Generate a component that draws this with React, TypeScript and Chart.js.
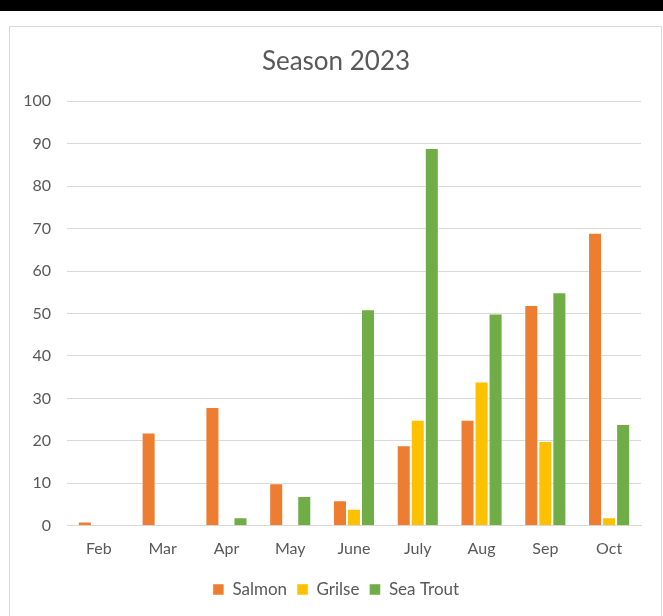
import React, { useEffect, useRef } from "react";
import { Chart, registerables } from "chart.js";

Chart.register(...registerables);

const months = ["Feb", "Mar", "Apr", "May", "June", "July", "Aug", "Sep", "Oct"];
const salmon = [1, 22, 28, 10, 6, 19, 25, 52, 69];
const grilse = [0, 0, 0, 0, 4, 25, 34, 20, 2];
const seaTrout = [0, 0, 2, 7, 51, 89, 50, 55, 24];
const chartTitle = "Season 2023";

const FONT = "Lato, 'Open Sans', sans-serif";
const TEXT = "#595959";

// centres the title and legend on the chart frame rather than the canvas
const centreOnFrame = {
  id: "centreOnFrame",
  afterLayout(chart: any) {
    const shift = 10.5;
    [chart.titleBlock, chart.legend].forEach((b: any) => {
      if (b) {
        b.left += shift;
        b.right += shift;
      }
    });
  },
};

export default function App() {
  const ref = useRef<HTMLCanvasElement | null>(null);

  useEffect(() => {
    document.body.style.margin = "0";
    const ctx = ref.current;
    if (!ctx) return;
    const chart = new Chart(ctx, {
      type: "bar",
      data: {
        labels: months,
        datasets: [
          { label: "Salmon", data: salmon, backgroundColor: "#ED7D31", borderColor: "rgba(255,255,255,0.45)", borderWidth: 1 },
          { label: "Grilse", data: grilse, backgroundColor: "#FFC000", borderColor: "rgba(255,255,255,0.45)", borderWidth: 1 },
          { label: "Sea Trout", data: seaTrout, backgroundColor: "#70AD47", borderColor: "rgba(255,255,255,0.45)", borderWidth: 1 },
        ],
      },
      options: {
        animation: false,
        responsive: false,
        maintainAspectRatio: false,
        datasets: { bar: { barPercentage: 1, categoryPercentage: 0.66 } },
        layout: { padding: { left: 10, right: 22, top: 0, bottom: 8 } },
        scales: {
          x: {
            grid: { display: false, drawTicks: false },
            border: { display: true, color: "#d9d9d9", width: 1 },
            ticks: { color: TEXT, font: { family: FONT, size: 16 }, padding: 13 },
          },
          y: {
            min: 0,
            max: 100,
            ticks: { stepSize: 10, color: TEXT, font: { family: FONT, size: 16 }, padding: 16 },
            grid: { color: "#d9d9d9", lineWidth: 1, drawTicks: false },
            border: { display: false },
            afterFit: (scale: any) => { scale.width = 57; },
          },
        },
        plugins: {
          title: {
            display: true,
            text: chartTitle,
            color: TEXT,
            font: { family: FONT, size: 26, weight: "normal" },
            padding: { top: 46, bottom: 24 },
          },
          legend: {
            position: "bottom",
            labels: {
              color: TEXT,
              font: { family: FONT, size: 17 },
              boxWidth: 11,
              boxHeight: 11,
              padding: 10,
            },
          },
          tooltip: { enabled: false },
        },
      },
      plugins: [centreOnFrame],
    });
    return () => chart.destroy();
  }, []);

  return (
    <div style={{ position: "relative", width: 663, height: 616, background: "#fff", overflow: "hidden" }}>
      <div style={{ position: "absolute", left: 0, top: 0, width: 663, height: 11, background: "#000" }} />
      <div
        style={{
          position: "absolute",
          left: 9,
          top: 26,
          width: 653,
          height: 600,
          border: "1px solid #d9d9d9",
          boxSizing: "border-box",
        }}
      />
      <canvas ref={ref} width={663} height={616} style={{ position: "absolute", left: 0, top: 0 }} />
    </div>
  );
}
